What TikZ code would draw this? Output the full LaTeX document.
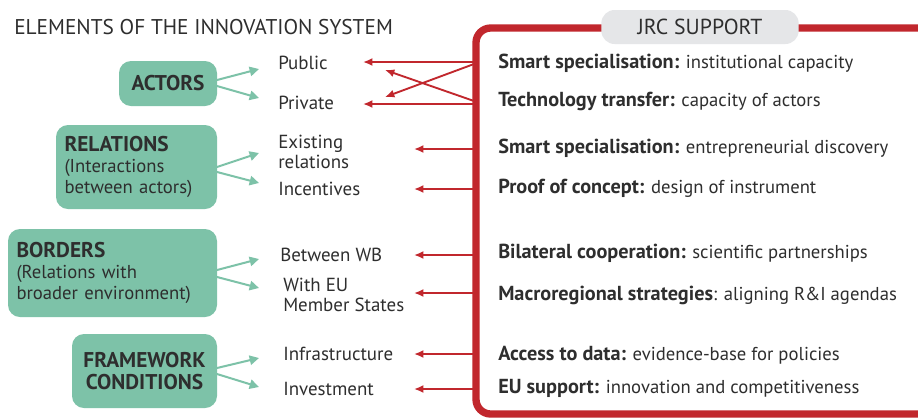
\documentclass[tikz,border=0pt]{standalone}
\usepackage{fontspec}
\setmainfont{PT Sans}
\usetikzlibrary{arrows.meta}
\definecolor{mint}{HTML}{7DC2A8}
\definecolor{jred}{HTML}{C1272D}
\definecolor{txt}{HTML}{2E2E2E}
\definecolor{greybox}{HTML}{E5E6E8}
\newcommand\supb[1]{{\fontsize{15.2}{17}\selectfont\bfseries #1}}
\newcommand\boxb[1]{{\fontsize{16}{17}\selectfont\bfseries #1}}
\begin{document}
\begin{tikzpicture}[x=0.75pt,y=-0.75pt,
  every node/.style={text=txt,inner sep=0pt},
  gbox/.style={fill=mint,rounded corners=9pt},
  garrow/.style={draw=mint,line width=1.5pt,-{Triangle[length=7pt,width=7pt]}},
  rarrow/.style={draw=jred,line width=1.4pt,-{Latex[length=7pt,width=6pt]}},
  mid/.style={anchor=west,font=\fontsize{14.2}{15.5}\selectfont,align=left},
  sup/.style={anchor=west,font=\fontsize{14}{15}\selectfont},
  boxtxt/.style={font=\fontsize{14}{16}\selectfont}
]
\useasboundingbox (0,0) rectangle (918,419);
\clip (0,0) rectangle (918,419);
\fill[white] (0,0) rectangle (918,419);

% title
\node[anchor=west,font=\fontsize{16}{18}\selectfont] (title) at (14,27) {ELEMENTS OF THE INNOVATION SYSTEM};

% red frame
\draw[jred,line width=5.5pt,rounded corners=11pt] (930,28) -- (476,28) -- (476,414) -- (930,414);
\node[fill=greybox,rounded corners=10pt,minimum width=148pt,minimum height=25.5pt,font=\fontsize{16.3}{18}\selectfont] (jrc) at (700,27) {JRC SUPPORT};

% green boxes
\node[gbox,minimum width=73.5pt,minimum height=33.75pt,boxtxt] (actors) at (168,83.5) {\boxb{ACTORS}};
\node[gbox,minimum width=120.75pt,minimum height=63pt,boxtxt,align=left,text width=108pt] (relations) at (136.5,167) {\boxb{RELATIONS}\\(Interactions\\between actors)};
\node[gbox,minimum width=156.75pt,minimum height=66pt,boxtxt,align=left,text width=144pt] (borders) at (112.5,273) {\boxb{BORDERS}\\(Relations with\\broader environment)};
\node[gbox,minimum width=108.75pt,minimum height=55.5pt,boxtxt,align=center] (framework) at (144.5,371) {\boxb{FRAMEWORK}\\\boxb{CONDITIONS}};

% middle labels
\node[mid] (public) at (278,63) {Public};
\node[mid] (private) at (278,103) {Private};
\node[mid] (existing) at (278,152) {Existing\\relations};
\node[mid] (incent) at (278,189) {Incentives};
\node[mid] (betwb) at (280,255) {Between WB};
\node[mid] (witheu) at (283,295) {With EU\\Member States};
\node[mid] (infra) at (283,354) {Infrastructure};
\node[mid] (invest) at (283,389) {Investment};

% green arrows
\draw[garrow] (217,80) -- (259,69);
\draw[garrow] (217,86) -- (259,98);
\draw[garrow] (217,167) -- (259,153);
\draw[garrow] (217,172) -- (259,183);
\draw[garrow] (217,270) -- (259,259);
\draw[garrow] (217,277) -- (259,288);
\draw[garrow] (217,368) -- (259,358);
\draw[garrow] (217,374) -- (259,387);

% JRC support texts
\node[sup] (s1) at (498,63) {\supb{Smart specialisation:} institutional capacity};
\node[sup] (s2) at (498,101) {\supb{Technology transfer:} capacity of actors};
\node[sup] (s3) at (498,148) {\supb{Smart specialisation:} entrepreneurial discovery};
\node[sup] (s4) at (498,188) {\supb{Proof of concept:} design of instrument};
\node[sup] (s5) at (498,253) {\supb{Bilateral cooperation:} scientific partnerships};
\node[sup] (s6) at (498,295) {\supb{Macroregional strategies}: aligning R\&I agendas};
\node[sup] (s7) at (498,355) {\supb{Access to data:} evidence-base for policies};
\node[sup] (s8) at (498,388) {\supb{EU support:} innovation and competitiveness};

% red arrow origins on frame
\coordinate (f1) at (474,62);
\coordinate (f2) at (474,104);
\coordinate (f1x) at (474,64);
\coordinate (f2x) at (474,101);
\coordinate (t1x) at (385,97);
\coordinate (t2x) at (385,70);
\coordinate (f3) at (474,149);
\coordinate (f4) at (474,189);
\coordinate (f5) at (474,255);
\coordinate (f6) at (474,293);
\coordinate (f7) at (474,354);
\coordinate (f8) at (474,389);
\coordinate (e1) at (363,62);
\coordinate (e2) at (363,104);
\coordinate (e3) at (414,149);
\coordinate (e4) at (414,189);
\coordinate (e5) at (414,255);
\coordinate (e6) at (414,293);
\coordinate (e7) at (414,354);
\coordinate (e8) at (414,389);

\draw[rarrow] (f1) -- (e1);
\draw[rarrow] (f2) -- (e2);
\draw[rarrow] (f1x) -- (t1x);
\draw[rarrow] (f2x) -- (t2x);
\draw[rarrow] (f3) -- (e3);
\draw[rarrow] (f4) -- (e4);
\draw[rarrow] (f5) -- (e5);
\draw[rarrow] (f6) -- (e6);
\draw[rarrow] (f7) -- (e7);
\draw[rarrow] (f8) -- (e8);
\end{tikzpicture}
\end{document}
